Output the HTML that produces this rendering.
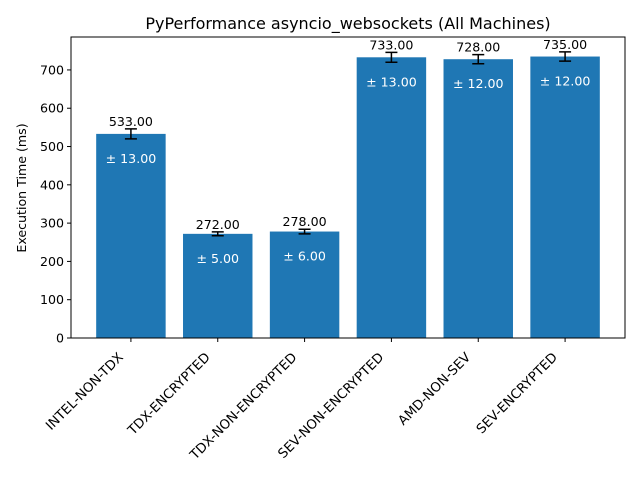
<!DOCTYPE html>
<html><head><meta charset="utf-8"><style>
body{margin:0;background:#fff;}
svg{display:block;font-family:"DejaVu Sans","Liberation Sans",sans-serif;}
</style></head><body>
<svg id="chart" width="640" height="480" viewBox="0 0 640 480" xmlns="http://www.w3.org/2000/svg">
<rect x="0" y="0" width="640" height="480" fill="#fff"/>
<text x="348" y="29" font-size="16" text-anchor="middle">PyPerformance asyncio_websockets (All Machines)</text>
<text transform="translate(26,188) rotate(-90)" font-size="12.6" text-anchor="middle">Execution Time (ms)</text>
<g id="plot"></g>
<rect x="71" y="37" width="554" height="301" fill="none" stroke="#000" stroke-width="1"/>
</svg>
<script>
const categories=["INTEL-NON-TDX","TDX-ENCRYPTED","TDX-NON-ENCRYPTED","SEV-NON-ENCRYPTED","AMD-NON-SEV","SEV-ENCRYPTED"];
const values=[533,272,278,733,728,735];
const errors=[13,5,6,13,12,12];
const yTicks=[0,100,200,300,400,500,600,700];

const L=71,R=625,T=37,B=338;
const ymax=786;
const y=v=>B-v*(B-T)/ymax;
const x0=-0.69,x1=5.69;
const x=i=>L+(i-x0)*(R-L)/(x1-x0);
const bw=0.8*(R-L)/(x1-x0);
const g=document.getElementById('plot');
const NS="http://www.w3.org/2000/svg";
function mk(t,a,txt){const e=document.createElementNS(NS,t);for(const k in a)e.setAttribute(k,a[k]);if(txt!==undefined)e.textContent=txt;g.appendChild(e);return e;}

yTicks.forEach(v=>{
  const tk=mk('line',{x1:L-4,x2:L,y1:y(v),y2:y(v),stroke:'#000'});
  
  
  const tl=mk('text',{x:L-7,y:y(v)+4.5,'font-size':12.6,'text-anchor':'end'},String(v));
  
  
});

categories.forEach((c,i)=>{
  const cx=x(i);
  const b=mk('rect',{x:cx-bw/2,y:y(values[i]),width:bw,height:B-y(values[i]),fill:'#1f77b4'});
  
  
  const top=y(values[i]+errors[i]),bot=y(values[i]-errors[i]);
  const eb=mk('path',{d:`M${cx},${top}V${bot}M${cx-6},${top}H${cx+6}M${cx-6},${bot}H${cx+6}`,stroke:'#000','stroke-width':1.5,fill:'none'});
  
  
  const vl=mk('text',{x:cx,y:top-3,'font-size':12.6,'text-anchor':'middle'},values[i].toFixed(2));
  
  
  const el=mk('text',{x:cx,y:y(values[i])+29,'font-size':12.6,'text-anchor':'middle',fill:'#fff'},'± '+errors[i].toFixed(2));
  
  
  const tk=mk('line',{x1:cx,x2:cx,y1:B,y2:B+4,stroke:'#000'});
  
  
  const xl=mk('text',{transform:`translate(${cx-7},${B+20}) rotate(-45)`,'font-size':13.2,'text-anchor':'end'},c);
  
  
});
</script>
</body></html>
